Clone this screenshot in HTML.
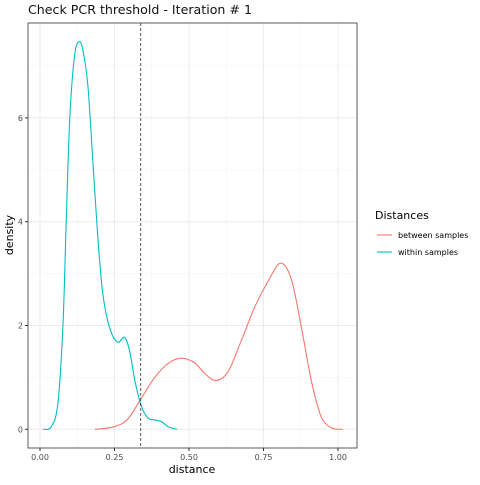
<!DOCTYPE html>
<html><head><meta charset="utf-8"><style>
body{margin:0;background:#fff;width:480px;height:480px;overflow:hidden}
text{font-family:"DejaVu Sans","Liberation Sans",sans-serif}
</style></head><body>
<svg id="c" width="480" height="480"></svg>
<script>
const cyanX=[0.01,0.038,0.06,0.077,0.088,0.1,0.116,0.131,0.144,0.161,0.177,0.194,0.211,0.234,0.26,0.284,0.301,0.318,0.34,0.362,0.385,0.407,0.43,0.46];
const cyanY=[0,0.05,0.5,2,4,6,7.2,7.47,7.3,6.6,5.2,3.7,2.6,1.95,1.68,1.77,1.5,0.95,0.45,0.22,0.18,0.15,0.05,0];
const redX=[0.184,0.25,0.295,0.34,0.385,0.43,0.474,0.519,0.552,0.589,0.63,0.675,0.72,0.765,0.807,0.843,0.876,0.91,0.943,0.977,1.016];
const redY=[0,0.05,0.2,0.6,1.0,1.27,1.37,1.28,1.08,0.94,1.1,1.7,2.35,2.85,3.2,2.9,2.0,0.95,0.25,0.03,0];
const threshold=0.338;
const xTicks=[0,0.25,0.5,0.75,1];
const xTickLabels=["0.00","0.25","0.50","0.75","1.00"];
const yTicks=[0,2,4,6];
const L=28,R=357,T=23,B=448;
const sx=v=>40+v*298, sy=v=>429.3-v*51.9;
const svg=document.getElementById('c');
const NS='http://www.w3.org/2000/svg';
function mk(t,a,p){const e=document.createElementNS(NS,t);for(const k in a)e.setAttribute(k,a[k]);(p||svg).appendChild(e);return e;}
mk('rect',{x:0,y:0,width:480,height:480,fill:'#fff'});
for(const v of [0.125,0.375,0.625,0.875]){const g=mk('line',{x1:sx(v),x2:sx(v),y1:T,y2:B,stroke:'#f2f2f2','stroke-width':0.5});}
for(const v of [1,3,5,7]){const g=mk('line',{x1:L,x2:R,y1:sy(v),y2:sy(v),stroke:'#f2f2f2','stroke-width':0.5});}
xTicks.forEach((v,i)=>{const g=mk('line',{x1:sx(v),x2:sx(v),y1:T,y2:B,stroke:'#ebebeb','stroke-width':1});
 mk('line',{x1:sx(v),x2:sx(v),y1:B,y2:B+3,stroke:'#333'});
 const t=mk('text',{x:sx(v),y:B+12,'font-size':8,'text-anchor':'middle',fill:'#4d4d4d'});t.textContent=xTickLabels[i];});
yTicks.forEach(v=>{const g=mk('line',{x1:L,x2:R,y1:sy(v),y2:sy(v),stroke:'#ebebeb','stroke-width':1});
 mk('line',{x1:L-3,x2:L,y1:sy(v),y2:sy(v),stroke:'#333'});
 const t=mk('text',{x:L-5,y:sy(v)+3,'font-size':8,'text-anchor':'end',fill:'#4d4d4d'});t.textContent=v;});
function path(xs,ys){const p=xs.map((x,i)=>[sx(x),sy(ys[i])]);let d='M'+p[0][0]+','+p[0][1];
 for(let i=0;i<p.length-1;i++){const p0=p[Math.max(0,i-1)],p1=p[i],p2=p[i+1],p3=p[Math.min(p.length-1,i+2)];
 d+=`C${p1[0]+(p2[0]-p0[0])/6},${p1[1]+(p2[1]-p0[1])/6} ${p2[0]-(p3[0]-p1[0])/6},${p2[1]-(p3[1]-p1[1])/6} ${p2[0]},${p2[1]}`;}return d;}
const r=mk('path',{d:path(redX,redY),fill:'none',stroke:'#F8766D','stroke-width':1.1});

const c=mk('path',{d:path(cyanX,cyanY),fill:'none',stroke:'#00BFC4','stroke-width':1.1});

const vl=mk('line',{x1:sx(threshold),x2:sx(threshold),y1:T,y2:B,stroke:'#333','stroke-dasharray':'3,2','stroke-width':0.8});

const bd=mk('rect',{x:L,y:T,width:R-L,height:B-T,fill:'none',stroke:'#333','stroke-width':0.8});

</script>
<svg style="position:absolute;left:0;top:0" width="480" height="480">
<text x="28" y="14" font-size="12" textLength="224" lengthAdjust="spacingAndGlyphs" fill="#111">Check PCR threshold - Iteration # 1</text>
<text x="192" y="473" font-size="11" text-anchor="middle">distance</text>
<text transform="translate(13,235) rotate(-90)" font-size="11" text-anchor="middle">density</text>
<text x="375" y="219" font-size="11">Distances</text>
<g><line x1="377" x2="392" y1="235" y2="235" stroke="#F8766D" stroke-width="1.1"/><text x="398" y="238" font-size="8">between samples</text></g>
<g><line x1="377" x2="392" y1="252" y2="252" stroke="#00BFC4" stroke-width="1.1"/><text x="398" y="255" font-size="8">within samples</text></g>
</svg>
</body></html>
